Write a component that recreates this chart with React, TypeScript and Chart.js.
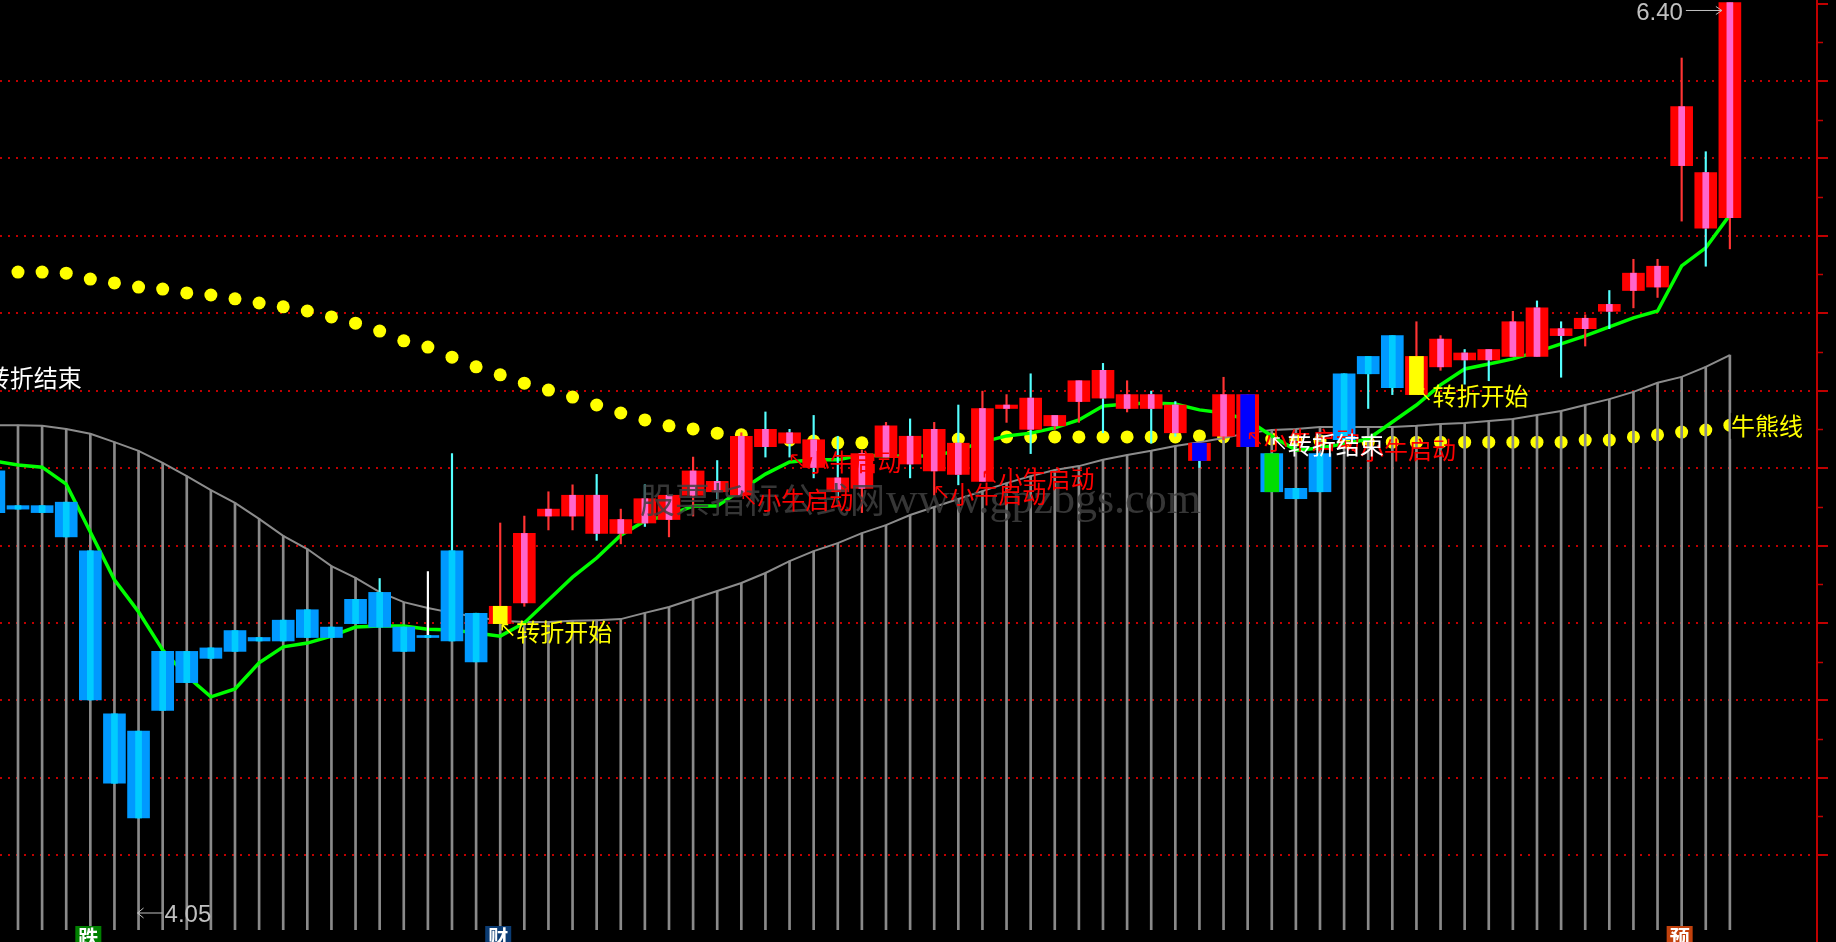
import React, { useEffect, useRef } from 'react';
import { Chart, registerables } from 'chart.js';

Chart.register(...registerables);

// index of the first (partly clipped) bar on the left edge
const FIRST_BAR = -1;

const opens = [
  5.05, 4.95, 4.95, 4.96, 4.82, 4.35, 4.30, 4.53, 4.53, 4.54,
  4.59, 4.57, 4.62, 4.65, 4.60, 4.68, 4.70, 4.60, 4.57, 4.82,
  4.64, 4.61, 4.67, 4.92, 4.92, 4.98, 4.87, 4.97, 4.91, 4.98,
  5.02, 4.98, 5.17, 5.16, 5.14, 5.03, 5.00, 5.09, 5.15, 5.05,
  5.13, 5.02, 5.23, 5.26, 5.18, 5.25, 5.34, 5.23, 5.27, 5.24,
  5.13, 5.15, 5.27, 5.10, 5.00, 5.10, 5.33, 5.38, 5.44, 5.27,
  5.35, 5.39, 5.40, 5.38, 5.52, 5.46, 5.46, 5.53, 5.57, 5.58,
  5.93, 5.91, 5.78,
];
const highs = [
  5.05, 4.95, 4.95, 4.96, 4.82, 4.35, 4.30, 4.53, 4.53, 4.54,
  4.59, 4.57, 4.62, 4.65, 4.60, 4.68, 4.74, 4.60, 4.76, 5.10,
  4.64, 4.90, 4.92, 4.99, 5.01, 5.04, 4.94, 5.01, 4.98, 5.09,
  5.08, 5.16, 5.22, 5.17, 5.21, 5.15, 5.11, 5.19, 5.20, 5.19,
  5.24, 5.28, 5.27, 5.33, 5.21, 5.31, 5.36, 5.31, 5.28, 5.25,
  5.13, 5.32, 5.27, 5.10, 5.00, 5.10, 5.33, 5.38, 5.44, 5.48,
  5.44, 5.40, 5.40, 5.51, 5.54, 5.48, 5.50, 5.57, 5.66, 5.66,
  6.24, 5.97, 6.40,
];
const lows = [
  4.93, 4.94, 4.93, 4.86, 4.39, 4.15, 4.05, 4.36, 4.44, 4.51,
  4.53, 4.56, 4.56, 4.57, 4.57, 4.61, 4.60, 4.53, 4.57, 4.56,
  4.50, 4.61, 4.66, 4.88, 4.88, 4.85, 4.84, 4.89, 4.86, 4.92,
  4.97, 4.98, 5.09, 5.09, 5.03, 4.97, 4.93, 5.09, 5.03, 4.98,
  5.01, 5.02, 5.19, 5.10, 5.17, 5.19, 5.16, 5.22, 5.13, 5.15,
  5.06, 5.14, 5.12, 4.99, 4.97, 4.99, 5.14, 5.23, 5.27, 5.27,
  5.34, 5.30, 5.31, 5.38, 5.38, 5.32, 5.41, 5.46, 5.52, 5.55,
  5.77, 5.64, 5.69,
];
const closes = [
  4.93, 4.94, 4.93, 4.86, 4.39, 4.15, 4.05, 4.36, 4.44, 4.51,
  4.53, 4.56, 4.56, 4.57, 4.57, 4.61, 4.60, 4.53, 4.57, 4.56,
  4.50, 4.66, 4.87, 4.94, 4.98, 4.87, 4.91, 4.90, 4.98, 5.05,
  4.99, 5.15, 5.12, 5.13, 5.06, 4.99, 5.10, 5.18, 5.07, 5.17,
  5.04, 5.23, 5.24, 5.17, 5.21, 5.31, 5.26, 5.27, 5.23, 5.16,
  5.08, 5.27, 5.12, 4.99, 4.97, 4.99, 5.14, 5.33, 5.29, 5.38,
  5.43, 5.37, 5.37, 5.48, 5.38, 5.44, 5.49, 5.51, 5.62, 5.64,
  6.10, 5.75, 6.40,
];
// candle paint: r = red, b = blue, y = yellow, n = navy core, g = green core
const paints = [
  'b', 'b', 'b', 'b', 'b', 'b', 'b', 'b', 'b', 'b',
  'b', 'b', 'b', 'b', 'b', 'b', 'b', 'b', 'b', 'b',
  'b', 'y', 'r', 'r', 'r', 'r', 'r', 'r', 'r', 'r',
  'r', 'r', 'r', 'r', 'r', 'r', 'r', 'r', 'r', 'r',
  'r', 'r', 'r', 'r', 'r', 'r', 'r', 'r', 'r', 'r',
  'n', 'r', 'n', 'g', 'b', 'b', 'b', 'b', 'b', 'y',
  'r', 'r', 'r', 'r', 'r', 'r', 'r', 'r', 'r', 'r',
  'r', 'r', 'r',
];
const trendLine = [
  5.079, 5.067, 5.061, 5.012, 4.874, 4.736, 4.644, 4.534, 4.459, 4.399,
  4.422, 4.497, 4.543, 4.554, 4.574, 4.600, 4.603, 4.603, 4.594, 4.592,
  4.583, 4.574, 4.612, 4.678, 4.744, 4.799, 4.865, 4.906, 4.923, 4.949,
  4.949, 4.995, 5.041, 5.076, 5.082, 5.082, 5.096, 5.093, 5.093, 5.093,
  5.110, 5.133, 5.151, 5.159, 5.174, 5.197, 5.237, 5.243, 5.246, 5.243,
  5.226, 5.217, 5.197, 5.151, 5.110, 5.116, 5.128, 5.142, 5.191, 5.240,
  5.298, 5.344, 5.358, 5.373, 5.393, 5.416, 5.439, 5.465, 5.491, 5.511,
  5.641, 5.693, 5.788,
];
const baseCurve = [
  5.182, 5.182, 5.180, 5.171, 5.157, 5.133, 5.108, 5.073, 5.035, 4.995,
  4.958, 4.912, 4.863, 4.825, 4.776, 4.742, 4.701, 4.672, 4.655, 4.641,
  4.629, 4.618, 4.615, 4.615, 4.618, 4.620, 4.623, 4.641, 4.658, 4.681,
  4.704, 4.727, 4.756, 4.790, 4.819, 4.842, 4.871, 4.894, 4.923, 4.946,
  4.969, 4.992, 5.015, 5.035, 5.053, 5.064, 5.082, 5.096, 5.108, 5.122,
  5.133, 5.145, 5.159, 5.168, 5.171, 5.177, 5.177, 5.177, 5.177, 5.180,
  5.185, 5.188, 5.194, 5.200, 5.211, 5.223, 5.240, 5.257, 5.278, 5.304,
  5.321, 5.350, 5.384,
];
const bullBearDots = [
  null, 5.623, 5.623, 5.620, 5.603, 5.592, 5.580, 5.574, 5.563, 5.557,
  5.546, 5.534, 5.523, 5.511, 5.494, 5.476, 5.453, 5.425, 5.407, 5.378,
  5.350, 5.327, 5.303, 5.283, 5.263, 5.240, 5.217, 5.197, 5.180, 5.171,
  5.159, 5.154, 5.148, 5.139, 5.136, 5.131, 5.131, 5.131, 5.133, 5.136,
  5.142, 5.145, 5.148, 5.148, 5.148, 5.148, 5.148, 5.148, 5.148, 5.148,
  5.151, 5.148, 5.145, 5.142, 5.139, 5.136, 5.133, 5.133, 5.133, 5.133,
  5.133, 5.133, 5.133, 5.133, 5.133, 5.133, 5.139, 5.139, 5.148, 5.154,
  5.162, 5.168, 5.182,
];

const gridPrices = [6.174, 5.951, 5.728, 5.505, 5.281, 5.058, 4.835, 4.612, 4.389, 4.166, 3.943];
const axisTopPrice = 6.397;
const Y_MIN = 3.7271;
const Y_MAX = 6.4072;
const X_MIN = -0.7465;
const X_MAX = 74.572;

const turnBars = [-2, 20, 52, 58];
const turnTexts = ['转折结束', '转折开始', '转折结束', '转折开始'];
const turnPrices = [5.318, 4.587, 5.125, 5.266];
const turnColors = ['#ffffff', '#ffff00', '#ffffff', '#ffff00'];

const startBars = [30, 32, 38, 40, 51, 55];
const startPrices = [4.966, 5.076, 4.984, 5.028, 5.139, 5.112];
const START_TEXT = '小牛启动';

const lineLabelBar = 71;
const lineLabelPrice = 5.18;
const LINE_LABEL = '牛熊线';

const markBars = [3, 20, 69];
const markTexts = ['跌', '财', '预'];
const markColors = ['#008000', '#0b3c74', '#c2410c'];

const PAINT: Record<string, { body: string; core: string; wide: boolean }> = {
  r: { body: '#ff0000', core: '#ff66cc', wide: false },
  b: { body: '#0099ff', core: '#00ccff', wide: false },
  y: { body: '#ff0000', core: '#ffff00', wide: true },
  n: { body: '#ff0000', core: '#0000ff', wide: true },
  g: { body: '#0099ff', core: '#00dd00', wide: true },
};

const CJK = '"Noto Sans CJK SC"';

function drawUpLeftArrow(ctx: CanvasRenderingContext2D, x: number, y: number, color: string) {
  ctx.save();
  ctx.strokeStyle = color;
  ctx.lineWidth = 1.5;
  ctx.beginPath();
  ctx.moveTo(x, y);
  ctx.lineTo(x + 11, y + 11);
  ctx.moveTo(x, y);
  ctx.lineTo(x + 6, y);
  ctx.moveTo(x, y);
  ctx.lineTo(x, y + 6);
  ctx.stroke();
  ctx.restore();
}

function drawSignal(ctx: CanvasRenderingContext2D, cx: number, cy: number, text: string, color: string) {
  drawUpLeftArrow(ctx, cx + 2, cy - 7, color);
  ctx.save();
  ctx.fillStyle = color;
  ctx.font = `24px ${CJK}`;
  ctx.textBaseline = 'middle';
  ctx.textAlign = 'left';
  ctx.fillText(text, cx + 16, cy);
  ctx.restore();
}

const overlayPlugin = {
  id: 'tdxOverlay',
  beforeDraw(chart: any) {
    const { ctx, width, height } = chart;
    ctx.save();
    ctx.fillStyle = '#000';
    ctx.fillRect(0, 0, width, height);
    ctx.restore();
  },
  beforeDatasetsDraw(chart: any) {
    const { ctx, chartArea } = chart;
    const y = chart.scales.y;
    ctx.save();
    ctx.strokeStyle = '#c00000';
    ctx.lineWidth = 2;
    ctx.setLineDash([2, 6]);
    gridPrices.forEach((p) => {
      const py = Math.round(y.getPixelForValue(p));
      ctx.beginPath();
      ctx.moveTo(chartArea.left, py);
      ctx.lineTo(chartArea.right, py);
      ctx.stroke();
    });
    ctx.restore();
  },
  afterDatasetsDraw(chart: any) {
    const { ctx, chartArea } = chart;
    const x = chart.scales.x;
    const y = chart.scales.y;

    // watermark
    ctx.save();
    ctx.fillStyle = 'rgba(64,64,64,0.85)';
    ctx.font = `35px ${CJK}`;
    ctx.textBaseline = 'middle';
    ctx.textAlign = 'left';
    ctx.fillText('股票指标公式网', 640, 500);
    ctx.font = '44px "Liberation Serif"';
    ctx.textBaseline = 'alphabetic';
    ctx.fillText('www.gpzbgs.com', 886, 513);
    ctx.restore();

    // red start labels
    startBars.forEach((b, k) => {
      drawSignal(ctx, x.getPixelForValue(b), y.getPixelForValue(startPrices[k]), START_TEXT, '#ff0000');
    });
    // turn labels
    turnBars.forEach((b, k) => {
      drawSignal(ctx, x.getPixelForValue(b), y.getPixelForValue(turnPrices[k]), turnTexts[k], turnColors[k]);
    });

    // bull/bear line label
    {
      const cx = x.getPixelForValue(lineLabelBar);
      const cy = y.getPixelForValue(lineLabelPrice);
      ctx.save();
      ctx.fillStyle = '#000';
      ctx.fillRect(cx + 1, cy - 13, 74, 26);
      ctx.fillStyle = '#ffff00';
      ctx.font = `24px ${CJK}`;
      ctx.textBaseline = 'middle';
      ctx.textAlign = 'left';
      ctx.fillText(LINE_LABEL, cx + 1, cy);
      ctx.restore();
    }

    // high / low value labels
    ctx.save();
    ctx.strokeStyle = '#c0c0c0';
    ctx.fillStyle = '#c0c0c0';
    ctx.lineWidth = 1;
    ctx.font = '24px "Liberation Sans"';
    const hiVal = Math.max(...highs);
    const hiK = highs.indexOf(hiVal);
    const hx = x.getPixelForValue(hiK + FIRST_BAR) - 8;
    const hy = y.getPixelForValue(hiVal) + 8;
    ctx.beginPath();
    ctx.moveTo(hx - 36, hy);
    ctx.lineTo(hx, hy);
    ctx.moveTo(hx - 6, hy - 4);
    ctx.lineTo(hx, hy);
    ctx.lineTo(hx - 6, hy + 4);
    ctx.stroke();
    ctx.textAlign = 'right';
    ctx.textBaseline = 'middle';
    ctx.fillText(hiVal.toFixed(2), hx - 39, hy + 3);

    const loVal = Math.min(...lows);
    const loK = lows.indexOf(loVal);
    const lx = x.getPixelForValue(loK + FIRST_BAR) - 1;
    const ly = chartArea.bottom - 17;
    ctx.beginPath();
    ctx.moveTo(lx, ly);
    ctx.lineTo(lx + 25, ly);
    ctx.moveTo(lx + 6, ly - 5);
    ctx.lineTo(lx, ly);
    ctx.lineTo(lx + 6, ly + 5);
    ctx.stroke();
    ctx.textAlign = 'left';
    ctx.fillText(loVal.toFixed(2), lx + 27, ly + 2);
    ctx.restore();

    // bottom badges
    markBars.forEach((b, k) => {
      const bx = x.getPixelForValue(b) - 15;
      const by = chartArea.bottom - 4;
      ctx.save();
      ctx.fillStyle = markColors[k];
      ctx.fillRect(bx, by, 26, 20);
      ctx.fillStyle = '#ffffff';
      ctx.font = `bold 20px ${CJK}`;
      ctx.textAlign = 'center';
      ctx.textBaseline = 'top';
      ctx.fillText(markTexts[k], bx + 13, by + 1);
      ctx.restore();
    });

    // right price axis
    const ax = chartArea.right + 1;
    ctx.save();
    ctx.strokeStyle = '#c00000';
    ctx.lineWidth = 2;
    ctx.beginPath();
    ctx.moveTo(ax, 0);
    ctx.lineTo(ax, chart.height);
    ctx.stroke();
    const majors = [axisTopPrice, ...gridPrices];
    majors.forEach((p) => {
      const py = Math.round(y.getPixelForValue(p));
      ctx.beginPath();
      ctx.moveTo(ax, py);
      ctx.lineTo(ax + 11, py);
      ctx.stroke();
    });
    ctx.lineWidth = 1.5;
    for (let k = 0; k < majors.length - 1; k++) {
      const py = Math.round(y.getPixelForValue((majors[k] + majors[k + 1]) / 2)) + 0.5;
      ctx.beginPath();
      ctx.moveTo(ax, py);
      ctx.lineTo(ax + 6, py);
      ctx.stroke();
    }
    ctx.restore();
  },
};

export default function App() {
  const ref = useRef<HTMLCanvasElement>(null);

  useEffect(() => {
    document.body.style.margin = '0';
    document.body.style.background = '#000';
    const canvas = ref.current;
    if (!canvas) return;

    const bars = opens.map((_, k) => k + FIRST_BAR);
    const wickColor = (k: number) =>
      closes[k] > opens[k] ? '#ff3333' : closes[k] < opens[k] ? '#55ffff' : '#ffffff';

    const bodyData = bars.map((b, k) => ({ x: b, y: [Math.min(opens[k], closes[k]), Math.max(opens[k], closes[k])] }));
    const bodyColors = bars.map((_, k) => PAINT[paints[k]].body);
    const narrowIdx = bars.map((_, k) => k).filter((k) => !PAINT[paints[k]].wide);
    const wideIdx = bars.map((_, k) => k).filter((k) => PAINT[paints[k]].wide);

    const chart = new Chart(canvas, {
      type: 'bar',
      data: {
        datasets: [
          {
            type: 'line',
            data: bars.map((b, k) => ({ x: b, y: bullBearDots[k] })),
            showLine: false,
            pointRadius: 6.5,
            pointBackgroundColor: '#ffff00',
            pointBorderColor: '#ffff00',
            pointBorderWidth: 0,
            order: 101,
          } as any,
          {
            type: 'bar',
            data: bars.map((b, k) => ({ x: b, y: baseCurve[k] })),
            backgroundColor: '#8a8a8a',
            barThickness: 2,
            grouped: false,
            order: 100,
          } as any,
          {
            type: 'line',
            data: bars.map((b, k) => ({ x: b, y: baseCurve[k] })),
            borderColor: '#8c8c8c',
            borderWidth: 2,
            pointRadius: 0,
            tension: 0,
            order: 95,
          } as any,
          {
            type: 'line',
            data: bars.map((b, k) => ({ x: b, y: trendLine[k] })),
            borderColor: '#00ff00',
            borderWidth: 3.5,
            pointRadius: 0,
            tension: 0,
            order: 80,
          } as any,
          {
            type: 'bar',
            data: bars.map((b, k) => ({ x: b, y: [lows[k], highs[k]] })),
            backgroundColor: bars.map((_, k) => wickColor(k)),
            barThickness: 1.5,
            grouped: false,
            minBarLength: 1,
            order: 70,
          } as any,
          {
            type: 'bar',
            data: bodyData,
            backgroundColor: bodyColors,
            barThickness: 22,
            grouped: false,
            minBarLength: 2,
            order: 60,
          } as any,
          {
            type: 'bar',
            data: narrowIdx.map((k) => bodyData[k]),
            backgroundColor: narrowIdx.map((k) => PAINT[paints[k]].core),
            barThickness: 6,
            grouped: false,
            minBarLength: 2,
            order: 50,
          } as any,
          {
            type: 'bar',
            data: wideIdx.map((k) => bodyData[k]),
            backgroundColor: wideIdx.map((k) => PAINT[paints[k]].core),
            barThickness: 14,
            grouped: false,
            minBarLength: 2,
            order: 49,
          } as any,
        ],
      },
      options: {
        responsive: false,
        animation: false,
        devicePixelRatio: 1,
        events: [],
        layout: { autoPadding: false, padding: { left: 0, top: 0, right: 20, bottom: 12 } },
        plugins: { legend: { display: false }, tooltip: { enabled: false }, title: { display: false } },
        scales: {
          x: { type: 'linear', display: false, min: X_MIN, max: X_MAX, offset: false, bounds: 'data' },
          y: { type: 'linear', display: false, min: Y_MIN, max: Y_MAX, beginAtZero: false, bounds: 'data' },
        },
      } as any,
      plugins: [overlayPlugin as any],
    });

    return () => chart.destroy();
  }, []);

  return (
    <div style={{ position: 'fixed', left: 0, top: 0, width: 1836, height: 942, background: '#000' }}>
      <canvas ref={ref} width={1836} height={942} style={{ display: 'block', width: 1836, height: 942 }} />
    </div>
  );
}
